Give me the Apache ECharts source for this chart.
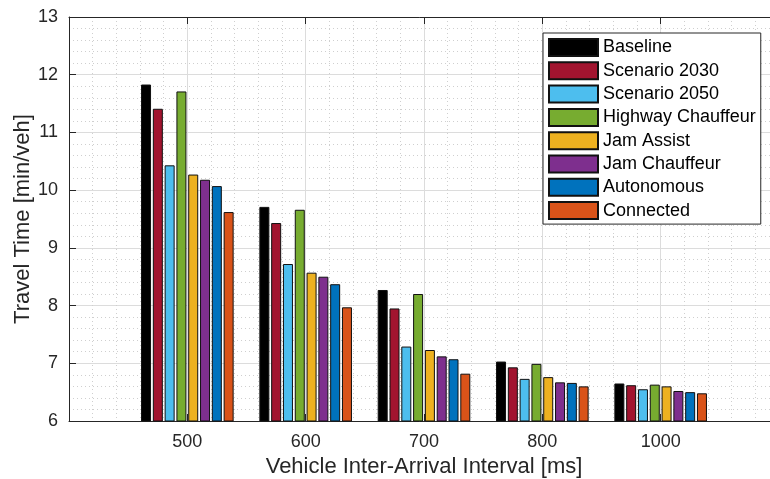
<!DOCTYPE html>
<html>
<head>
<meta charset="utf-8">
<script src="https://cdn.jsdelivr.net/npm/echarts@6/dist/echarts.min.js"></script>
<style>
html,body{margin:0;padding:0;background:#fff;}
#chart{width:770px;height:479px;}
</style>
</head>
<body>
<div id="chart"></div>
<script>
const categories = ['500', '600', '700', '800', '1000'];
const seriesNames = ['Baseline', 'Scenario 2030', 'Scenario 2050', 'Highway Chauffeur', 'Jam Assist', 'Jam Chauffeur', 'Autonomous', 'Connected'];
const baseline = [11.83, 9.71, 8.27, 7.03, 6.65];
const scenario2030 = [11.41, 9.43, 7.95, 6.93, 6.62];
const scenario2050 = [10.43, 8.72, 7.29, 6.73, 6.55];
const highwayChauffeur = [11.71, 9.66, 8.20, 6.99, 6.63];
const jamAssist = [10.27, 8.57, 7.23, 6.76, 6.60];
const jamChauffeur = [10.18, 8.50, 7.12, 6.67, 6.52];
const autonomous = [10.07, 8.37, 7.07, 6.66, 6.50];
const connected = [9.62, 7.97, 6.82, 6.60, 6.48];
const yTicks = [6, 7, 8, 9, 10, 11, 12, 13];

const colors = ['#000000', '#A2142F', '#4DBEEE', '#77AC30', '#EDB120', '#7E2F8E', '#0072BD', '#D95319'];
const allValues = [baseline, scenario2030, scenario2050, highwayChauffeur, jamAssist, jamChauffeur, autonomous, connected];

const axisData = [''].concat(categories, ['']);
const font = 'Liberation Sans, Arial, Helvetica, sans-serif';
const axisColor = '#262626';
const gridColor = '#dcdcdc';
const minorColor = '#cfcfcf';

const series = seriesNames.map((name, i) => ({
  name: name,
  type: 'bar',
  xAxisIndex: 0,
  barWidth: 10,
  barGap: '18%',
  data: [null].concat(allValues[i], [null]),
  itemStyle: { color: colors[i], borderColor: '#111', borderWidth: 1 },
  emphasis: { disabled: true },
  z: 3
}));

const chart = echarts.init(document.getElementById('chart'), null, { renderer: 'canvas' });
chart.setOption({
  animation: false,
  textStyle: { fontFamily: font },
  grid: { left: 69, top: 17, width: 710, height: 404, containLabel: false, outerBoundsMode: 'none' },
  legend: {
    orient: 'vertical',
    left: 543,
    top: 33,
    itemWidth: 49,
    itemHeight: 17,
    itemGap: 4.3,
    padding: [5, 5, 4, 5],
    backgroundColor: '#fff',
    borderColor: '#262626',
    borderWidth: 1,
    borderRadius: 0,
    icon: 'rect',
    textStyle: { fontFamily: font, fontSize: 18, color: '#000' },
    data: seriesNames,
    z: 10
  },
  xAxis: [
    {
      type: 'category',
      data: axisData,
      boundaryGap: false,
      position: 'bottom',
      name: 'Vehicle Inter-Arrival Interval [ms]',
      nameLocation: 'middle',
      nameGap: 34,
      nameTextStyle: { fontFamily: font, fontSize: 22, color: axisColor },
      axisLine: { lineStyle: { color: axisColor, width: 1 } },
      axisTick: { inside: true, length: 7, lineStyle: { color: axisColor } },
      axisLabel: { fontFamily: font, fontSize: 18, color: axisColor, margin: 12 },
      splitLine: { show: false }
    },
    {
      type: 'value',
      min: 0,
      max: 6,
      interval: 1,
      position: 'top',
      axisLine: { show: true, lineStyle: { color: axisColor, width: 1 } },
      axisTick: { show: true, inside: true, length: 7, lineStyle: { color: axisColor } },
      axisLabel: { show: false },
      splitLine: { show: true, lineStyle: { color: gridColor, width: 1 } },
      minorTick: { show: false, splitNumber: 5 },
      minorSplitLine: { show: true, lineStyle: { color: minorColor, width: 1, type: [1, 3] } }
    }
  ],
  yAxis: {
    type: 'value',
    min: yTicks[0],
    max: yTicks[yTicks.length - 1],
    interval: 1,
    name: 'Travel Time [min/veh]',
    nameLocation: 'middle',
    nameGap: 35,
    nameMoveOverlap: false,
    nameTextStyle: { fontFamily: font, fontSize: 22, color: axisColor },
    axisLine: { show: true, lineStyle: { color: axisColor, width: 1 } },
    axisTick: { show: true, inside: true, length: 7, lineStyle: { color: axisColor } },
    axisLabel: { fontFamily: font, fontSize: 18, color: axisColor, margin: 11 },
    splitLine: { show: true, lineStyle: { color: gridColor, width: 1 } },
    minorTick: { show: false, splitNumber: 5 },
    minorSplitLine: { show: true, lineStyle: { color: minorColor, width: 1, type: [1, 3] } }
  },
  series: series
});
</script>
</body>
</html>
